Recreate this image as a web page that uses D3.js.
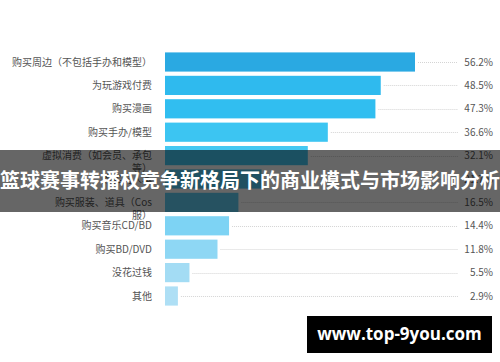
<!DOCTYPE html>
<html>
<head>
<meta charset="utf-8">
<script src="https://cdn.jsdelivr.net/npm/d3@7"></script>
<style>
  body { margin: 0; background: #fff; }
  svg { display: block; font-family: "Noto Sans CJK SC", "Noto Sans", sans-serif; }
</style>
</head>
<body>
<div id="chart"></div>
<script>
// categories, top to bottom (\n = manual line break, as in the original)
const categories = [
  '购买周边（不包括手办和模型）',
  '为玩游戏付费',
  '购买漫画',
  '购买手办/模型',
  '虚拟消费（如会员、承包\n等）',
  '购买同人本',
  '购买服装、道具（Cos\n服）',
  '购买音乐CD/BD',
  '购买BD/DVD',
  '没花过钱',
  '其他'
];
const values = [56.2, 48.5, 47.3, 36.6, 32.1, 21.7, 16.5, 14.4, 11.8, 5.5, 2.9];

const title = '篮球赛事转播权竞争新格局下的商业模式与市场影响分析';
const watermark = 'www.top-9you.com';

// bar colours, darkest first
const palette = ['#2aa9e2', '#2fbaee', '#31bef0', '#3cc5f2', '#45c8f2', '#52caf2',
                 '#5fcdf3', '#7dd3f4', '#8ed7f4', '#a3dcf4', '#aedff5'];

const W = 500, H = 362;
const svg = d3.select('#chart').append('svg')
  .attr('width', W)
  .attr('height', H);

const data = categories.map((c, i) => ({cat: c, val: values[i], i}));

const x = d3.scaleLinear()
  .domain([0, d3.max(values)])
  .range([165, 415]);
const y = d3.scaleBand()
  .domain(categories)
  .range([50.3, 307.7])
  .paddingInner(0.18)
  .paddingOuter(0.09);

const rowY = d => y(d.cat) + y.bandwidth() / 2;

// dotted leader lines
svg.append('g').selectAll('line')
  .data(data)
  .join('line')
    .attr('x1', d => x(d.val) + 3)
    .attr('x2', 458)
    .attr('y1', d => Math.round(rowY(d)) + 0.5)
    .attr('y2', d => Math.round(rowY(d)) + 0.5)
    .attr('stroke', '#d4d4d4')
    .attr('stroke-dasharray', '1,1');

// bars
svg.append('g').selectAll('rect')
  .data(data)
  .join('rect')
    .attr('x', x(0))
    .attr('y', d => y(d.cat))
    .attr('width', d => x(d.val) - x(0))
    .attr('height', y.bandwidth())
    .attr('fill', d => palette[d.i]);

// category labels (first line sits on the bar centre, extra lines flow down)
const labels = svg.append('g').selectAll('text')
  .data(data)
  .join('text')
    .attr('text-anchor', 'end')
    .attr('font-size', 10)
    .attr('fill', '#555');
labels.selectAll('tspan')
  .data(d => d.cat.split('\n').map((s, k) => ({s, k, y: rowY(d)})))
  .join('tspan')
    .attr('x', 152)
    .attr('y', t => t.y + 3.5 + t.k * 13)
    .text(t => t.s);

// value labels
svg.append('g').selectAll('text')
  .data(data)
  .join('text')
    .attr('x', 493)
    .attr('y', d => rowY(d) + 3.5)
    .attr('text-anchor', 'end')
    .attr('font-size', 10)
    .attr('fill', '#555')
    .text(d => d.val.toFixed(1) + '%');

// dark title banner across the middle
svg.append('rect')
  .attr('x', 0).attr('y', 150)
  .attr('width', W).attr('height', 62)
  .attr('fill', 'rgba(0,0,0,0.6)');
svg.append('text')
  .attr('x', W / 2)
  .attr('y', 188)
  .attr('text-anchor', 'middle')
  .attr('font-size', 20)
  .attr('font-weight', 'bold')
  .attr('fill', '#fff')
  .text(title);

// watermark box
svg.append('rect')
  .attr('x', 307).attr('y', 316)
  .attr('width', 185).attr('height', 37)
  .attr('fill', '#000');
svg.append('text')
  .attr('x', 399.5)
  .attr('y', 340)
  .attr('text-anchor', 'middle')
  .attr('font-family', '"Open Sans", "Noto Sans", sans-serif')
  .attr('font-size', 17)
  .attr('font-weight', 'bold')
  .attr('fill', '#fff')
  .text(watermark);
</script>
</body>
</html>
